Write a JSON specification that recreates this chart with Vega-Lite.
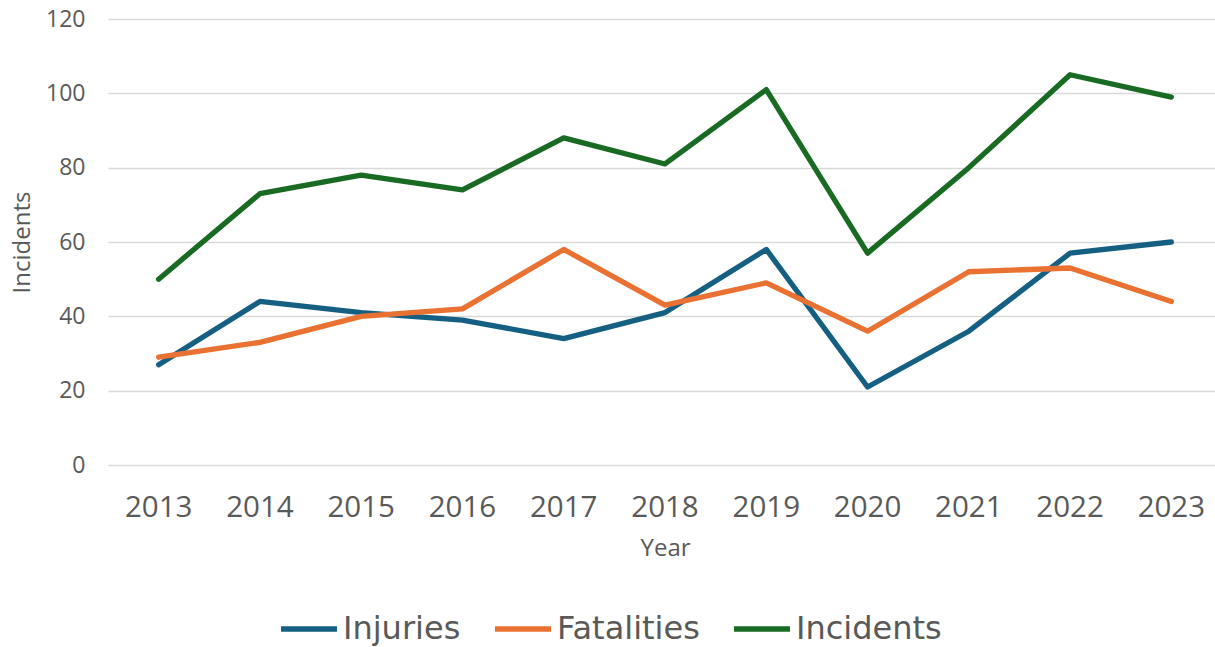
{
  "$schema": "https://vega.github.io/schema/vega-lite/v6.json",
  "width": 1107,
  "height": 446,
  "autosize": {"type": "none"},
  "padding": {"left": 108, "top": 19, "right": 0, "bottom": 182},
  "background": "white",
  "config": {
    "view": {"stroke": null},
    "font": "Open Sans"
  },
  "data": {
    "values": [
      {"year": "2013", "series": "Injuries", "value": 27},
      {"year": "2014", "series": "Injuries", "value": 44},
      {"year": "2015", "series": "Injuries", "value": 41},
      {"year": "2016", "series": "Injuries", "value": 39},
      {"year": "2017", "series": "Injuries", "value": 34},
      {"year": "2018", "series": "Injuries", "value": 41},
      {"year": "2019", "series": "Injuries", "value": 58},
      {"year": "2020", "series": "Injuries", "value": 21},
      {"year": "2021", "series": "Injuries", "value": 36},
      {"year": "2022", "series": "Injuries", "value": 57},
      {"year": "2023", "series": "Injuries", "value": 60},
      {"year": "2013", "series": "Fatalities", "value": 29},
      {"year": "2014", "series": "Fatalities", "value": 33},
      {"year": "2015", "series": "Fatalities", "value": 40},
      {"year": "2016", "series": "Fatalities", "value": 42},
      {"year": "2017", "series": "Fatalities", "value": 58},
      {"year": "2018", "series": "Fatalities", "value": 43},
      {"year": "2019", "series": "Fatalities", "value": 49},
      {"year": "2020", "series": "Fatalities", "value": 36},
      {"year": "2021", "series": "Fatalities", "value": 52},
      {"year": "2022", "series": "Fatalities", "value": 53},
      {"year": "2023", "series": "Fatalities", "value": 44},
      {"year": "2013", "series": "Incidents", "value": 50},
      {"year": "2014", "series": "Incidents", "value": 73},
      {"year": "2015", "series": "Incidents", "value": 78},
      {"year": "2016", "series": "Incidents", "value": 74},
      {"year": "2017", "series": "Incidents", "value": 88},
      {"year": "2018", "series": "Incidents", "value": 81},
      {"year": "2019", "series": "Incidents", "value": 101},
      {"year": "2020", "series": "Incidents", "value": 57},
      {"year": "2021", "series": "Incidents", "value": 80},
      {"year": "2022", "series": "Incidents", "value": 105},
      {"year": "2023", "series": "Incidents", "value": 99}
    ]
  },
  "mark": {"type": "line", "strokeWidth": 5.3, "strokeCap": "round", "strokeJoin": "round"},
  "encoding": {
    "x": {
      "field": "year",
      "type": "ordinal",
      "sort": null,
      "bandPosition": 0.5,
      "scale": {"type": "band", "range": [0, 1114], "paddingInner": 0, "paddingOuter": 0},
      "axis": {
        "title": "Year",
        "titleFont": "Open Sans",
        "titleFontSize": 24,
        "titleFontWeight": "normal",
        "titleColor": "#595959",
        "titlePadding": 15,
        "labelFont": "Open Sans",
        "labelFontSize": 29.5,
        "labelColor": "#595959",
        "labelPadding": 28,
        "labelAngle": 0,
        "ticks": false,
        "domain": false,
        "grid": false
      }
    },
    "y": {
      "field": "value",
      "type": "quantitative",
      "scale": {"domain": [0, 120], "nice": false},
      "axis": {
        "title": "Incidents",
        "titleFont": "Open Sans",
        "titleFontSize": 24,
        "titleFontWeight": "normal",
        "titleColor": "#595959",
        "titlePadding": 11,
        "values": [0, 20, 40, 60, 80, 100, 120],
        "labelFont": "Open Sans",
        "labelFontSize": 23,
        "labelColor": "#595959",
        "labelPadding": 23,
        "ticks": false,
        "domain": false,
        "grid": true,
        "gridColor": "#d9d9d9",
        "gridWidth": 1.5
      }
    },
    "color": {
      "field": "series",
      "type": "nominal",
      "scale": {
        "domain": ["Injuries", "Fatalities", "Incidents"],
        "range": ["#156082", "#E97132", "#196B24"]
      },
      "legend": {
        "title": null,
        "orient": "none",
        "direction": "horizontal",
        "legendX": 170,
        "legendY": 579,
        "symbolType": "stroke",
        "symbolSize": 3136,
        "symbolStrokeWidth": 5.5,
        "labelFont": "DejaVu Sans",
        "labelFontSize": 32,
        "labelColor": "#595959",
        "labelOffset": 3,
        "columnPadding": 23,
        "labelLimit": 300
      }
    }
  }
}
